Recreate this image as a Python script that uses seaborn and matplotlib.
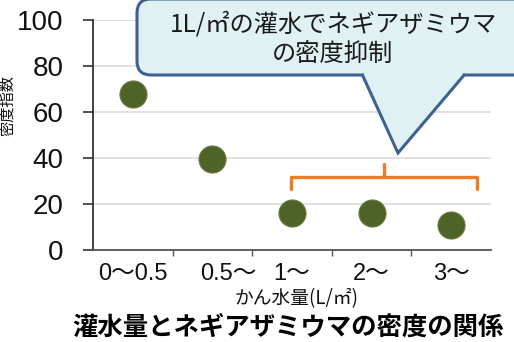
import matplotlib
matplotlib.use("Agg")
import matplotlib.pyplot as plt
import matplotlib.transforms as mtransforms
from matplotlib.patches import FancyBboxPatch, Polygon
import seaborn as sns
import pandas as pd

# ---- data ----
categories = ["0～0.5", "0.5～", "1～", "2～", "3～"]
density_index = [68, 39.5, 16, 16, 11]
y_ticks = [0, 20, 40, 60, 80, 100]

xlabel_text = "かん水量(L/㎡)"
ylabel_text = "密度指数"
title_text = "灌水量とネギアザミウマの密度の関係"
callout_text = "1L/㎡の灌水でネギアザミウマ\nの密度抑制"

sns.set_theme(style="white")
plt.rcParams["font.family"] = ["Liberation Sans", "Noto Sans CJK JP", "DejaVu Sans"]

df = pd.DataFrame({"cat": categories, "val": density_index})

W, H = 514, 342
fig = plt.figure(figsize=(W / 100, H / 100), dpi=100)
fig.patch.set_facecolor("white")
ax = fig.add_axes([93 / W, 1 - 250 / H, (491 - 93) / W, (250 - 20) / H])

sns.scatterplot(data=df, x="cat", y="val", ax=ax, s=380, color="#4f6228",
                edgecolor="#6b7d45", linewidth=0.8, zorder=3, legend=False)

ax.set_xlim(-0.5, len(categories) - 0.5)
ax.set_ylim(0, 100)
ax.set_yticks(y_ticks)
ax.set_yticklabels([str(v) for v in y_ticks], fontsize=20, color="#111111")
ax.set_xticks(range(len(categories)))
ax.set_xticklabels(categories, fontsize=17, color="#111111")
ax.tick_params(axis="x", length=0, pad=9)
ax.tick_params(axis="y", length=7, width=1.2, color="#333333", pad=14, left=True)
ax.set_xticks([i + 0.5 for i in range(len(categories) - 1)], minor=True)
ax.tick_params(axis="x", which="minor", length=4, width=1, color="#555555", bottom=True)

# shift second label slightly right as in reference
lbls = ax.get_xticklabels()
off = mtransforms.ScaledTranslation(16 / 100, 0, fig.dpi_scale_trans)
lbls[1].set_transform(lbls[1].get_transform() + off)

ax.grid(axis="y", color="#d9d9d9", linewidth=1.1)
ax.set_axisbelow(True)
for s in ["top", "right"]:
    ax.spines[s].set_visible(False)
ax.spines["left"].set_color("#333333")
ax.spines["left"].set_linewidth(1.3)
ax.spines["bottom"].set_color("#555555")
ax.spines["bottom"].set_linewidth(1.3)
ax.set_xlabel("")
ax.set_ylabel("")

fig.text(297 / W, 1 - 299 / H, xlabel_text, ha="center", va="center",
         fontsize=13.5, family=["Noto Sans CJK JP"], color="#111111")
fig.text(288 / W, 1 - 327 / H, title_text, ha="center", va="center",
         fontsize=18.3, fontweight="bold", family=["Noto Sans CJK JP"], color="black")
fig.text(8 / W, 1 - 106 / H, ylabel_text, ha="center", va="center", rotation=90,
         fontsize=11, family=["Noto Sans CJK JP"], color="#111111")

# orange bracket
bx = [1.99, 1.99, 4.33, 4.33]
by = [26.5, 31.7, 31.7, 26.5]
ax.plot(bx, by, color="#f07c28", lw=2.4, solid_joinstyle="round", clip_on=False, zorder=4)
ax.plot([3.16, 3.16], [31.7, 37.5], color="#f07c28", lw=2.4, clip_on=False, zorder=4)

# callout box (pixel coords, origin top-left converted to display)
def P(px, py):
    return (px, H - py)

ident = mtransforms.IdentityTransform()
edge = "#3d6190"
fill = "#e0f1f4"
x0, y0 = P(137, 75)
box = FancyBboxPatch((x0, y0), 560 - 137, 76,
                     boxstyle="round,pad=0,rounding_size=14",
                     transform=ident, facecolor=fill, edgecolor=edge,
                     linewidth=2.2, zorder=5)
fig.patches.append(box)
tri = Polygon([P(362, 74), P(398, 153), P(465, 74)],
              closed=False, transform=ident, facecolor=fill,
              edgecolor=edge, linewidth=2.2, zorder=6)
fig.patches.append(tri)
tri2 = Polygon([P(364, 73), P(398, 149), P(463, 73)],
               closed=True, transform=ident, facecolor=fill,
               edgecolor="none", zorder=7)
fig.patches.append(tri2)

fig.text(333 / W, 1 - 39 / H, callout_text, ha="center", va="center", fontsize=17.5,
         family=["Noto Sans CJK JP"], color="#1a1a1a", linespacing=1.2, zorder=8)

fig.savefig("out.png", dpi=100, facecolor="white")
